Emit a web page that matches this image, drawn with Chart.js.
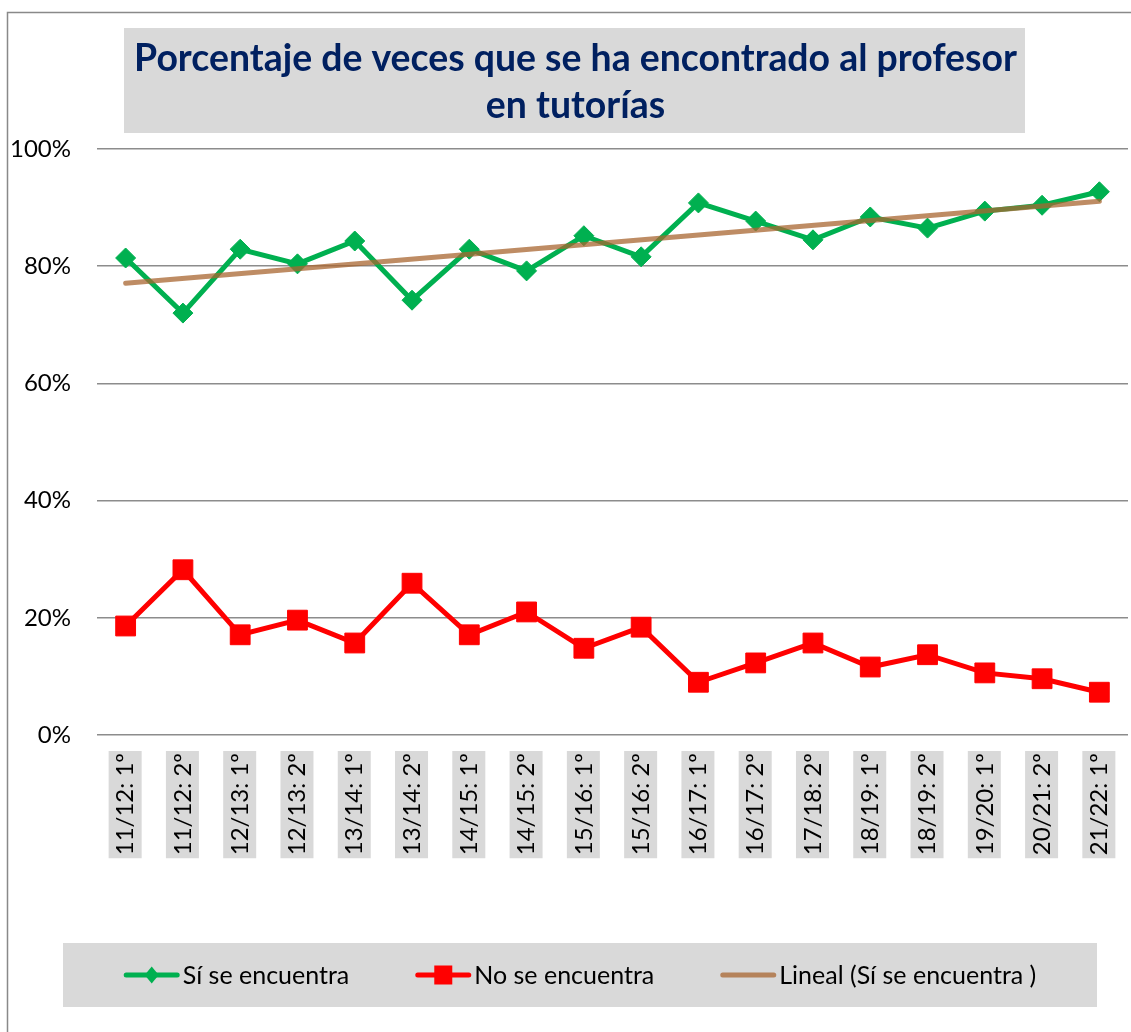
<!DOCTYPE html>
<html>
<head>
<meta charset="utf-8">
<script src="https://cdn.jsdelivr.net/npm/chart.js@4.4.1/dist/chart.umd.min.js"></script>
<style>
  html, body { margin: 0; background: #fff; overflow: hidden; }
  #wrap { width: 1131px; height: 1032px; }
  canvas { display: block; }
</style>
</head>
<body>
<div id="wrap"><canvas id="myChart"></canvas></div>
<script>
const titleLines = ['Porcentaje de veces que se ha encontrado al profesor', 'en tutorías'];
const periods = ['11/12: 1º', '11/12: 2º', '12/13: 1º', '12/13: 2º', '13/14: 1º', '13/14: 2º',
  '14/15: 1º', '14/15: 2º', '15/16: 1º', '15/16: 2º', '16/17: 1º', '16/17: 2º',
  '17/18: 2º', '18/19: 1º', '18/19: 2º', '19/20: 1º', '20/21: 2º', '21/22: 1º'];
const siSeEncuentra = [81.4, 72.0, 82.9, 80.4, 84.3, 74.2, 82.9, 79.2, 85.2, 81.6,
  90.8, 87.7, 84.5, 88.4, 86.5, 89.4, 90.4, 92.7];
const noSeEncuentra = [18.6, 28.2, 17.1, 19.6, 15.7, 25.9, 17.1, 21.0, 14.8, 18.4,
  9.0, 12.3, 15.7, 11.6, 13.7, 10.6, 9.6, 7.3];
// end points of the linear trend line
const trendStart = 77.1;
const trendEnd = 91.1;
const yTicks = [0, 20, 40, 60, 80, 100];

const GREEN = '#00B050';
const RED = '#FF0000';
const TREND = 'rgba(168,102,48,0.75)';
const LABEL_FONT = '24px Lato';

const trendData = periods.map((p, i) => i === 0 ? trendStart : (i === periods.length - 1 ? trendEnd : null));

Chart.defaults.font.family = 'Lato';

// gray frame, title box with title, gray boxes behind the category labels
const decorations = {
  id: 'decorations',
  beforeDraw(chart) {
    const ctx = chart.ctx;
    ctx.save();
    ctx.strokeStyle = '#898989';
    ctx.lineWidth = 1.5;
    ctx.strokeRect(7.5, 12.5, chart.width + 20, chart.height + 20);

    ctx.fillStyle = '#d9d9d9';
    ctx.fillRect(124, 28, 901, 105);
    ctx.fillStyle = '#002060';
    ctx.font = 'bold 37.4px Lato';
    ctx.textAlign = 'center';
    ctx.textBaseline = 'middle';
    titleLines.forEach((t, i) => ctx.fillText(t, 575.5, 59 + i * 47));

    const xs = chart.scales.x;
    ctx.fillStyle = '#d9d9d9';
    ctx.font = LABEL_FONT;
    periods.forEach((p, i) => {
      const px = xs.getPixelForTick(i);
      const w = ctx.measureText(p).width;
      ctx.fillRect(px - 17, xs.top + 16, 33, w + 5);
    });
    ctx.restore();
  }
};

// legend drawn in a gray band under the axis
const legendOrder = [1, 2, 0];
const legendBand = {
  id: 'legendBand',
  afterDraw(chart) {
    const ctx = chart.ctx;
    const box = { left: 63, right: 1097, top: 943, bottom: 1007 };
    ctx.save();
    ctx.fillStyle = '#d9d9d9';
    ctx.fillRect(box.left, box.top, box.right - box.left, box.bottom - box.top);
    ctx.font = '25px Lato';
    ctx.textBaseline = 'middle';
    const markW = 56, markGap = 3, itemGap = 66;
    const items = legendOrder.map(i => {
      const ds = chart.data.datasets[i];
      return { ds, w: ctx.measureText(ds.label).width };
    });
    const total = items.reduce((s, it) => s + markW + markGap + it.w, 0) + itemGap * (items.length - 1);
    let x = (box.left + box.right) / 2 - total / 2;
    const cy = (box.top + box.bottom) / 2;
    items.forEach(it => {
      const ds = it.ds;
      ctx.strokeStyle = ds.borderColor;
      ctx.lineWidth = 5;
      ctx.lineCap = 'round';
      ctx.beginPath();
      ctx.moveTo(x + 2.5, cy);
      ctx.lineTo(x + markW - 2.5, cy);
      ctx.stroke();
      const mx = x + markW / 2;
      ctx.fillStyle = ds.pointBackgroundColor || ds.borderColor;
      if (ds.pointStyle === 'rectRot') {
        ctx.beginPath();
        ctx.moveTo(mx, cy - 8.5);
        ctx.lineTo(mx + 7, cy);
        ctx.lineTo(mx, cy + 8.5);
        ctx.lineTo(mx - 7, cy);
        ctx.closePath();
        ctx.fill();
      } else if (ds.pointStyle === 'rect') {
        ctx.fillRect(mx - 9, cy - 9.5, 18, 19);
      }
      ctx.fillStyle = '#000';
      ctx.fillText(ds.label, x + markW + markGap, cy + 1);
      x += markW + markGap + it.w + itemGap;
    });
    ctx.restore();
  }
};

const data = {
  labels: periods,
  datasets: [
    {
      label: 'Lineal (Sí se encuentra )',
      data: trendData,
      borderColor: TREND,
      borderWidth: 5,
      borderCapStyle: 'round',
      pointRadius: 0,
      pointHoverRadius: 0,
      pointStyle: 'line',
      spanGaps: true,
      order: -1
    },
    {
      label: 'Sí se encuentra',
      data: siSeEncuentra,
      borderColor: GREEN,
      backgroundColor: GREEN,
      pointBackgroundColor: GREEN,
      pointBorderColor: GREEN,
      borderWidth: 5,
      pointStyle: 'rectRot',
      pointRadius: 10,
      pointBorderWidth: 1,
      tension: 0
    },
    {
      label: 'No se encuentra',
      data: noSeEncuentra,
      borderColor: RED,
      backgroundColor: RED,
      pointBackgroundColor: RED,
      pointBorderColor: RED,
      borderWidth: 5,
      pointStyle: 'rect',
      pointRadius: 14,
      pointBorderWidth: 1,
      tension: 0
    }
  ]
};

const config = {
  type: 'line',
  data: data,
  options: {
    responsive: true,
    maintainAspectRatio: false,
    animation: false,
    layout: { autoPadding: false, padding: { left: 10, right: 3, top: 149, bottom: 89 } },
    plugins: {
      legend: { display: false },
      tooltip: { enabled: false },
      title: { display: false }
    },
    scales: {
      x: {
        offset: true,
        grid: { display: false, drawTicks: false },
        border: { display: false },
        ticks: {
          autoSkip: false,
          maxRotation: 90,
          minRotation: 90,
          color: '#000',
          font: { size: 24 },
          padding: 18
        },
        afterFit(scale) {
          scale.height = 208;
          scale.paddingLeft = 0;
          scale.paddingRight = 0;
        }
      },
      y: {
        min: 0,
        max: 100,
        afterBuildTicks(scale) { scale.ticks = yTicks.map(v => ({ value: v })); },
        grid: { color: '#8c8c8c', lineWidth: 1.5, drawTicks: false },
        border: { display: false },
        ticks: {
          color: '#000',
          font: { size: 24 },
          padding: 26,
          callback: v => v + '%'
        },
        afterFit(scale) { scale.width = 87; }
      }
    }
  },
  plugins: [decorations, legendBand]
};

const myChart = new Chart(document.getElementById('myChart'), config);
</script>
</body>
</html>
